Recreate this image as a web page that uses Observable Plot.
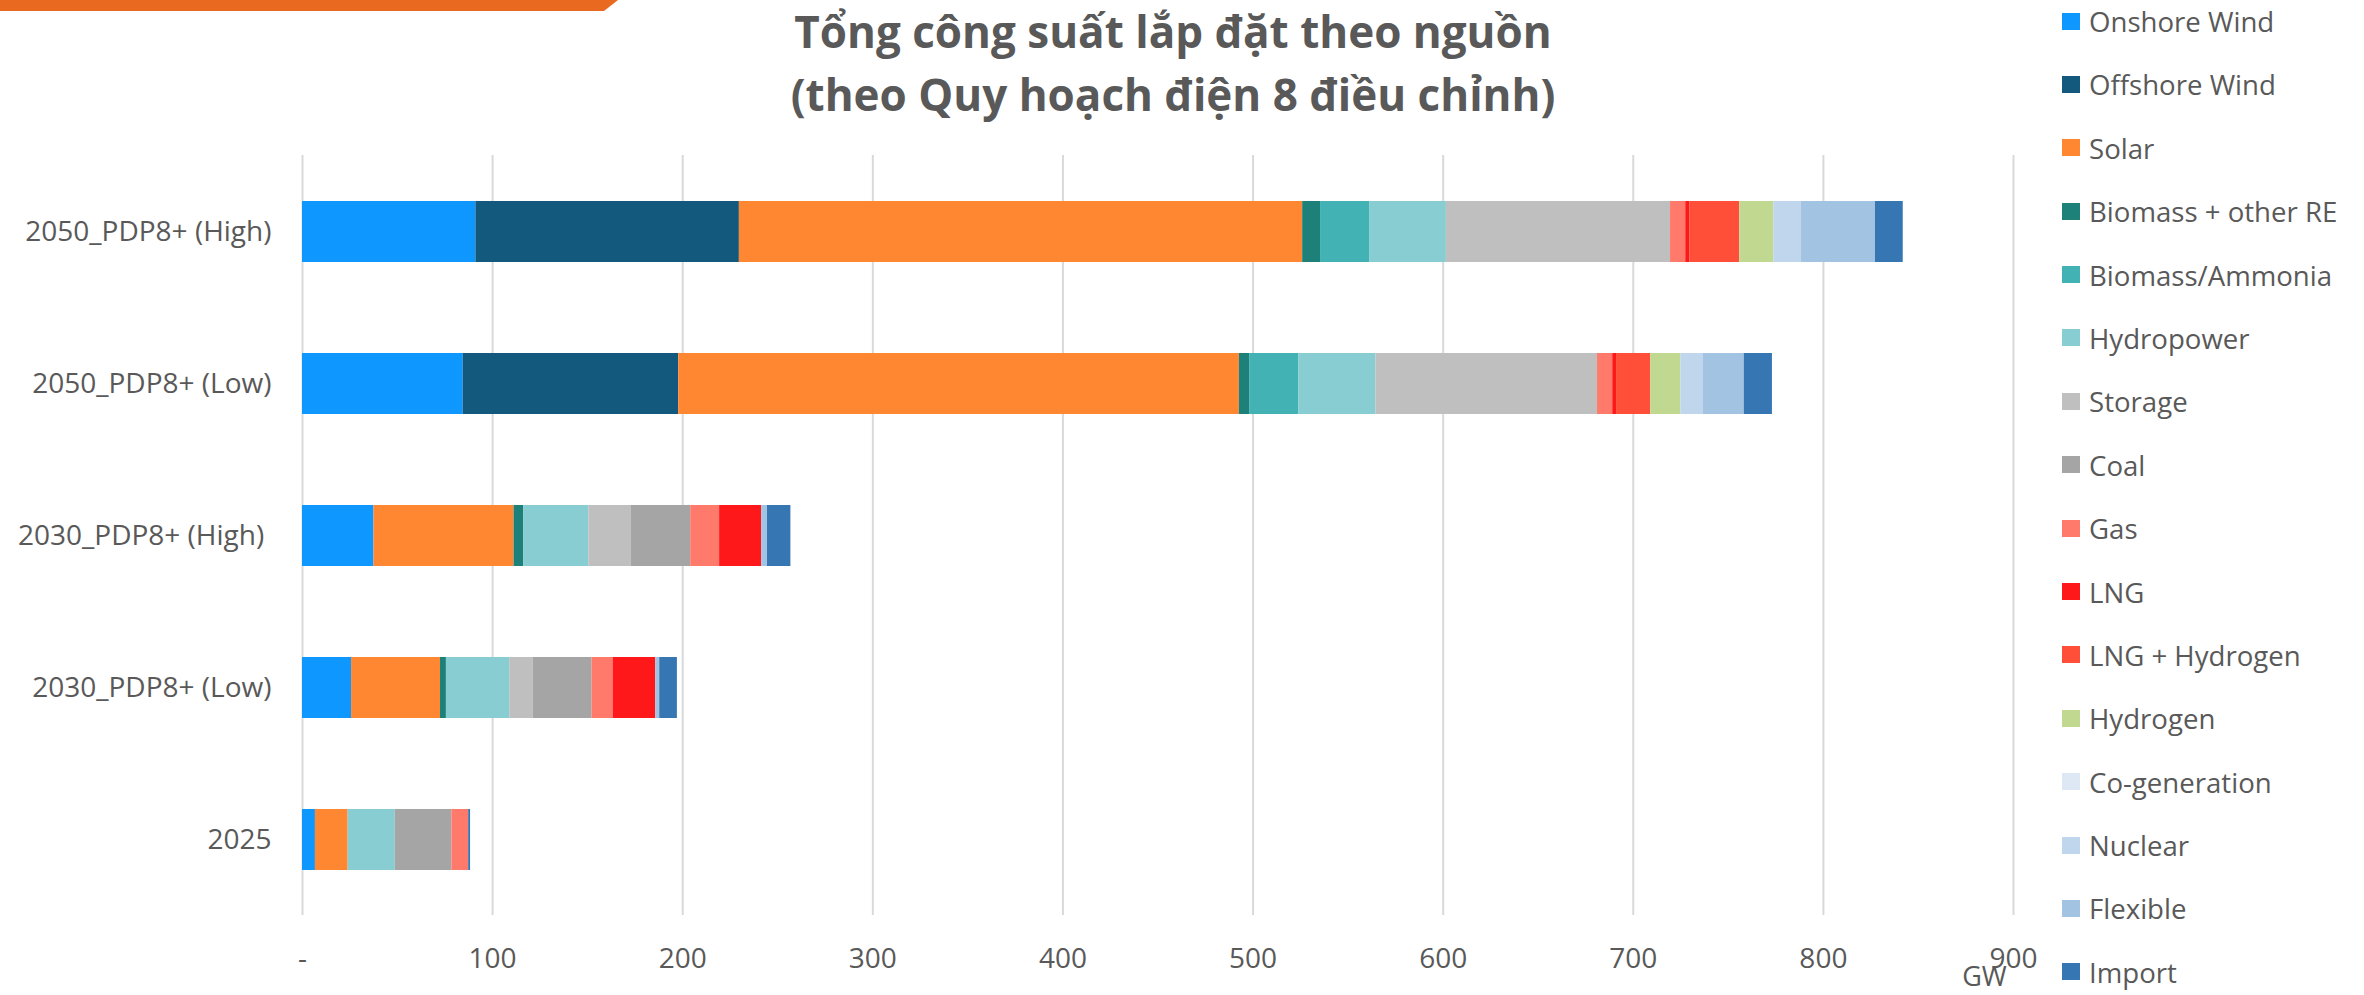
<!DOCTYPE html>
<html><head><meta charset="utf-8">
<script src="https://cdn.jsdelivr.net/npm/d3@7"></script>
<script src="https://cdn.jsdelivr.net/npm/@observablehq/plot@0.6"></script>
<style>
body{margin:0;background:#fff;font-family:"Open Sans",sans-serif;color:#595959;}
#wrap{position:relative;width:2364px;height:995px;overflow:hidden;background:#fff}
#topbar{position:absolute;left:0;top:0;width:620px;height:11px;background:#e8691f;clip-path:polygon(0 0,618px 0,604px 11px,0 11px)}
#title{position:absolute;left:623px;width:1100px;top:0;text-align:center;font-weight:700;font-size:44px;line-height:63px;color:#595959}
#legend{position:absolute;left:2062px;top:-10.7px}
.item{display:flex;align-items:center;height:63.4px;font-size:27.6px;color:#595959;white-space:nowrap}
.sw{width:18px;height:17px;margin-right:9px;flex:none}
#chart{position:absolute;left:0;top:0}
</style>
</head><body>
<div id="wrap">
  <div id="topbar"></div>
  <div id="title">Tổng công suất lắp đặt theo nguồn<br>(theo Quy hoạch điện 8 điều chỉnh)</div>
  <div id="chart"></div>
  <div id="legend"></div>
</div>
<script>
// Categories (top to bottom); the original label of the third one ends with a space
const categories = ["2050_PDP8+ (High)", "2050_PDP8+ (Low)", "2030_PDP8+ (High)\u00a0", "2030_PDP8+ (Low)", "2025"];

// Sources (stack order) and colours
const sources = ["Onshore Wind", "Offshore Wind", "Solar", "Biomass + other RE", "Biomass/Ammonia", "Hydropower", "Storage", "Coal", "Gas", "LNG", "LNG + Hydrogen", "Hydrogen", "Co-generation", "Nuclear", "Flexible", "Import"];
const colors = ["#0e97ff", "#13597d", "#ff8732", "#1e8179", "#42b2b5", "#88cdd1", "#bfbfbf", "#a5a5a5", "#ff7a6a", "#ff181a", "#ff4f38", "#c1d891", "#dde8f4", "#bfd6ec", "#a2c3e1", "#3677b3"];

// Series values in GW, one value per category (same order as categories)
const onshoreWind    = [91.2, 84.5, 37.6, 25.8, 6.8];
const offshoreWind   = [138.6, 113.4, 0, 0, 0];
const solar          = [296.3, 294.9, 73.7, 46.8, 17.2];
const biomassOther   = [9.4, 5.4, 5.0, 3.1, 0];
const biomassAmmonia = [25.8, 25.8, 0, 0, 0];
const hydropower     = [40.4, 40.6, 34.3, 33.3, 24.8];
const storage        = [117.9, 116.6, 22.4, 12.3, 0];
const coal           = [0, 0, 31.2, 31.0, 29.8];
const gas            = [8.0, 8.0, 15.2, 11.1, 8.8];
const lng            = [2.1, 2.0, 22.1, 22.4, 0];
const lngHydrogen    = [26.3, 18.0, 0, 0, 0];
const hydrogen       = [17.9, 15.8, 0, 0, 0];
const cogeneration   = [0, 0, 0, 0, 0];
const nuclear        = [14.5, 11.9, 0, 0, 0];
const flexible       = [39.0, 21.5, 3.1, 2.1, 0];
const importPower    = [14.6, 14.8, 12.3, 9.3, 1.0];

// Axis ticks and labels
const xTicks = [0, 100, 200, 300, 400, 500, 600, 700, 800, 900];
const xTickLabels = ["-", "100", "200", "300", "400", "500", "600", "700", "800", "900"];
const unitLabel = ["GW"];

const series = [onshoreWind, offshoreWind, solar, biomassOther, biomassAmmonia, hydropower, storage, coal, gas, lng, lngHydrogen, hydrogen, cogeneration, nuclear, flexible, importPower];

const rows = [];
categories.forEach((c, i) => {
  sources.forEach((s, j) => rows.push({category: c, source: s, value: series[j][i]}));
});

const chart = Plot.plot({
  width: 2364,
  height: 995,
  marginTop: 155,
  marginBottom: 80,
  marginLeft: 302,
  marginRight: 351,
  style: {fontFamily: "Open Sans, sans-serif", fontSize: "28px", color: "#595959", background: "transparent"},
  x: {domain: [0, 900]},
  y: {domain: categories, paddingInner: 0.6, paddingOuter: 0.3},
  color: {domain: sources, range: colors},
  marks: [
    Plot.gridX(xTicks, {stroke: "#d9d9d9", strokeOpacity: 1, strokeWidth: 2}),
    Plot.barX(rows, Plot.stackX({y: "category", x: "value", fill: "source"})),
    Plot.axisX({ticks: xTicks, tickSize: 0, tickPadding: 33, fontSize: 28, fill: "#595959",
      tickFormat: d => xTickLabels[xTicks.indexOf(d)], label: null}),
    Plot.axisY({tickSize: 0, tickPadding: 31, fontSize: 28, fill: "#595959", label: null}),
    Plot.text(unitLabel, {text: d => d, frameAnchor: "bottom-right", dx: -29, dy: 62, textAnchor: "middle", lineAnchor: "middle", fontSize: 27, fill: "#595959"})
  ]
});
document.getElementById("chart").appendChild(chart);

// Legend
const legend = document.getElementById("legend");
sources.forEach((s, j) => {
  const item = document.createElement("div");
  item.className = "item";
  const sw = document.createElement("span");
  sw.className = "sw";
  sw.style.background = colors[j];
  const t = document.createElement("span");
  t.textContent = s;
  item.appendChild(sw);
  item.appendChild(t);
  legend.appendChild(item);
});
</script>
</body></html>
